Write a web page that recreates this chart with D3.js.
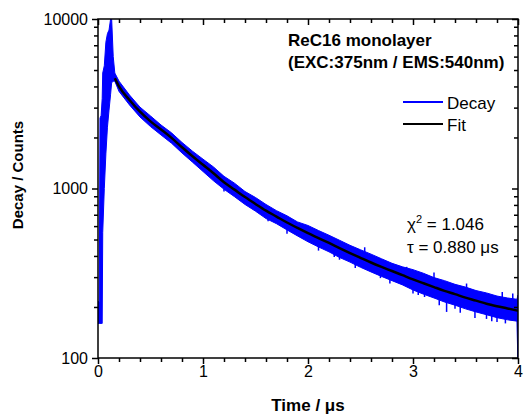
<!DOCTYPE html>
<html>
<head>
<meta charset="utf-8">
<script src="https://cdn.jsdelivr.net/npm/d3@7"></script>
<style>
  body { margin: 0; background: #fff; }
  svg { display: block; }
  text { font-family: Arial, 'Liberation Sans', sans-serif; fill: #000; }
  .axis path, .axis line { stroke: #000; stroke-width: 1.5; }
</style>
</head>
<body>
<div id="chart"></div>
<script>
// decay trace, stored as the upper / lower edge of the noisy band
const decayTime  = [0, 0.012, 0.019, 0.03, 0.04, 0.045, 0.06, 0.075, 0.09, 0.105, 0.12, 0.13, 0.145, 0.16,
  0.2, 0.3, 0.4, 0.5, 0.6, 0.7, 0.8, 0.9, 1.0, 1.1, 1.2, 1.3, 1.4, 1.5, 1.6, 1.7, 1.8, 1.9,
  2.0, 2.1, 2.2, 2.3, 2.4, 2.5, 2.6, 2.7, 2.8, 2.9, 3.0, 3.1, 3.2, 3.3, 3.4, 3.5, 3.6, 3.7, 3.8, 3.9, 3.99, 4.0];
const decayUpper = [215, 215, 2600, 2700, 3400, 4800, 5300, 7300, 8200, 8600, 10000, 10000, 6000, 4800,
  4300, 3560, 3020, 2680, 2370, 2130, 1870, 1660, 1490, 1340, 1180, 1075, 960, 885, 805, 740, 690, 635,
  605, 565, 530, 495, 462, 435, 410, 385, 362, 345, 332, 316, 298, 286, 272, 262, 250, 242, 232, 226, 222, 235];
const decayLower = [160, 160, 160, 160, 160, 550, 1000, 1600, 2300, 2900, 3600, 4200, 4300, 4300,
  3740, 3110, 2640, 2320, 2070, 1850, 1620, 1430, 1260, 1110, 990, 895, 805, 735, 665, 620, 570, 525,
  485, 452, 423, 392, 368, 343, 322, 303, 286, 270, 252, 238, 226, 214, 205, 195, 187, 180, 173, 168, 165, 90];

// single noise spikes sticking out of the band: [time, low, high]
const decaySpikes = [
  [1.2, 960, 1000], [1.62, 640, 700], [1.8, 540, 575], [1.95, 505, 530],
  [2.0, 484, 520], [2.1, 430, 460], [2.25, 395, 440], [2.3, 380, 420],
  [2.45, 340, 380], [2.52, 340, 400], [2.54, 380, 450], [2.66, 318, 360],
  [2.69, 296, 340], [2.78, 275, 310], [2.88, 288, 320], [2.94, 300, 345],
  [3.0, 240, 270], [3.05, 235, 260], [3.11, 229, 260], [3.2, 255, 320],
  [3.25, 205, 230], [3.32, 187, 225], [3.4, 195, 220], [3.45, 185, 205],
  [3.51, 200, 275], [3.59, 172, 205], [3.65, 190, 245], [3.7, 170, 190],
  [3.75, 165, 185], [3.8, 163, 190], [3.85, 205, 245], [3.88, 160, 180],
  [3.92, 174, 200], [3.95, 180, 240]
];

// fitted curve
const fitTime   = [0.16, 0.2, 0.3, 0.4, 0.5, 0.6, 0.7, 0.8, 0.9, 1.0, 1.1, 1.2, 1.3, 1.4, 1.5, 1.6, 1.7, 1.8, 1.9,
  2.0, 2.1, 2.2, 2.3, 2.4, 2.5, 2.6, 2.7, 2.8, 2.9, 3.0, 3.1, 3.2, 3.3, 3.4, 3.5, 3.6, 3.7, 3.8, 3.9, 4.0];
const fitCounts = [4470, 4000, 3330, 2840, 2490, 2230, 1990, 1750, 1550, 1380, 1230, 1090, 985, 890, 810, 740, 683, 630, 585,
  545, 510, 477, 445, 416, 390, 366, 345, 326, 308, 291, 276, 262, 249, 238, 227, 218, 209, 202, 196, 190];

const xMajor = [0, 1, 2, 3, 4];
const xMinor = [0.2, 0.4, 0.6, 0.8, 1.2, 1.4, 1.6, 1.8, 2.2, 2.4, 2.6, 2.8, 3.2, 3.4, 3.6, 3.8];
const yMajor = [100, 1000, 10000];
const yMinor = [200, 300, 400, 500, 600, 700, 800, 900, 2000, 3000, 4000, 5000, 6000, 7000, 8000, 9000];

const W = 524, H = 416;
const plot = { left: 98, right: 518, top: 19, bottom: 358 };

const svg = d3.select('#chart').append('svg')
  .attr('width', W)
  .attr('height', H);

const x = d3.scaleLinear().domain([0, 4]).range([plot.left, plot.right]);
const y = d3.scaleLog().domain([100, 10000]).range([plot.bottom, plot.top]);

svg.append('clipPath').attr('id', 'clip')
  .append('rect')
  .attr('x', plot.left).attr('y', plot.top)
  .attr('width', plot.right - plot.left).attr('height', plot.bottom - plot.top);

const data = svg.append('g').attr('clip-path', 'url(#clip)');

// decay band
const rows = decayTime.map((t, i) => ({ t, hi: decayUpper[i], lo: decayLower[i] }));
data.append('path')
  .datum(rows)
  .attr('fill', '#0000ff')
  .attr('stroke', '#0000ff')
  .attr('stroke-width', 1)
  .attr('d', d3.area()
    .x(d => x(d.t))
    .y0(d => y(d.lo))
    .y1(d => y(d.hi)));

data.selectAll('line.spike')
  .data(decaySpikes)
  .enter().append('line')
  .attr('class', 'spike')
  .attr('x1', d => x(d[0])).attr('x2', d => x(d[0]))
  .attr('y1', d => y(d[1])).attr('y2', d => y(d[2]))
  .attr('stroke', '#0000ff')
  .attr('stroke-width', 1.5);

// fit
data.append('path')
  .datum(fitTime.map((t, i) => [t, fitCounts[i]]))
  .attr('fill', 'none')
  .attr('stroke', '#000')
  .attr('stroke-width', 2.5)
  .attr('d', d3.line()
    .x(d => x(d[0]))
    .y(d => y(d[1]))
    .curve(d3.curveMonotoneX));

// axes: outward ticks bottom / left, inward mirror ticks top / right
function addAxis(axis, tx, ty, values, size, labels) {
  const g = svg.append('g')
    .attr('class', 'axis')
    .attr('transform', `translate(${tx},${ty})`)
    .call(axis.tickValues(values).tickSize(size).tickSizeOuter(0)
      .tickFormat(labels ? d3.format('d') : ''));
  g.select('.domain').remove();
  return g;
}

addAxis(d3.axisBottom(x), 0, plot.bottom, xMajor, 6, true).call(g => g.selectAll('text')
  .attr('font-size', 16).attr('y', 8).attr('font-family', null));
addAxis(d3.axisBottom(x), 0, plot.bottom, xMinor, 4, false);
addAxis(d3.axisLeft(y), plot.left, 0, yMajor, 6, true).call(g => g.selectAll('text')
  .attr('font-size', 16).attr('x', -10).attr('font-family', null));
addAxis(d3.axisLeft(y), plot.left, 0, yMinor, 4, false);
addAxis(d3.axisTop(x), 0, plot.top, xMajor, -6, false);
addAxis(d3.axisTop(x), 0, plot.top, xMinor, -4, false);
addAxis(d3.axisRight(y), plot.right, 0, yMajor, -6, false);
addAxis(d3.axisRight(y), plot.right, 0, yMinor, -4, false);

svg.append('rect')
  .attr('x', plot.left).attr('y', plot.top)
  .attr('width', plot.right - plot.left).attr('height', plot.bottom - plot.top)
  .attr('fill', 'none')
  .attr('stroke', '#000')
  .attr('stroke-width', 1.5);

// axis titles
svg.append('text')
  .attr('x', 308).attr('y', 411)
  .attr('text-anchor', 'middle')
  .attr('font-size', 17).attr('font-weight', 'bold')
  .text('Time / μs');

svg.append('text')
  .attr('transform', 'translate(23,175) rotate(-90)')
  .attr('text-anchor', 'middle')
  .attr('font-size', 15).attr('font-weight', 'bold')
  .text('Decay / Counts');

// sample annotation
svg.append('text')
  .attr('x', 288).attr('y', 46)
  .attr('font-size', 17).attr('font-weight', 'bold')
  .text('ReC16 monolayer');
svg.append('text')
  .attr('x', 288).attr('y', 68)
  .attr('font-size', 17).attr('font-weight', 'bold')
  .text('(EXC:375nm / EMS:540nm)');

// legend
const legend = [
  { name: 'Decay', color: '#0000ff', y: 102 },
  { name: 'Fit', color: '#000', y: 124 }
];
legend.forEach(d => {
  svg.append('line')
    .attr('x1', 403).attr('x2', 443)
    .attr('y1', d.y).attr('y2', d.y)
    .attr('stroke', d.color).attr('stroke-width', 2);
  svg.append('text')
    .attr('x', 447).attr('y', d.y + 7)
    .attr('font-size', 17)
    .text(d.name);
});

// fit results
const chi = svg.append('text')
  .attr('x', 407).attr('y', 230)
  .attr('font-size', 17);
chi.append('tspan').text('χ');
chi.append('tspan').attr('font-size', 11).attr('dy', -7).text('2');
chi.append('tspan').attr('dy', 7).text(' = 1.046');

svg.append('text')
  .attr('x', 407).attr('y', 253)
  .attr('font-size', 17)
  .text('τ = 0.880 μs');
</script>
</body>
</html>
